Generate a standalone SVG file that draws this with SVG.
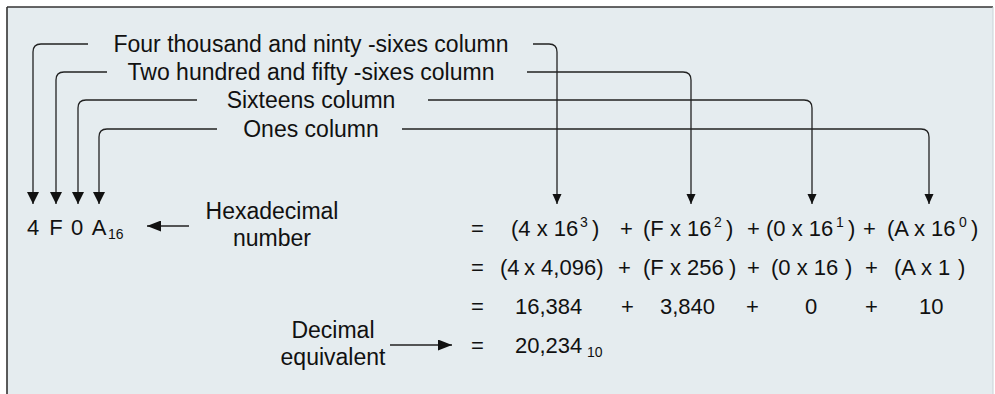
<svg xmlns="http://www.w3.org/2000/svg" width="995" height="394" viewBox="0 0 995 394">
<defs>
<style>
.t{font-family:"Liberation Sans",Arial,sans-serif;fill:#111;}
.lab{font-size:23px;text-anchor:middle;}
.eq{font-size:22px;}
.sm{font-size:14px;}
.c{fill:none;stroke:#222;stroke-width:1.3;}
</style>
<marker id="aBig" markerUnits="userSpaceOnUse" markerWidth="12" markerHeight="12" viewBox="0 0 12 12" refX="12" refY="6" orient="auto"><path d="M0,0 L12,6 L0,12 z" fill="#111"/></marker>
<marker id="aSm" markerUnits="userSpaceOnUse" markerWidth="10" markerHeight="10" viewBox="0 0 10 10" refX="10" refY="5" orient="auto"><path d="M0,0.5 L10,5 L0,9.5 z" fill="#111"/></marker>
<marker id="aH" markerUnits="userSpaceOnUse" markerWidth="14" markerHeight="11" viewBox="0 0 14 11" refX="14" refY="5.5" orient="auto"><path d="M0,0 L14,5.5 L0,11 z" fill="#111"/></marker>
</defs>
<rect x="7" y="7" width="986" height="390" fill="#e5ecef"/>
<line x1="7" y1="7" x2="993" y2="7" stroke="#333" stroke-width="1.6"/>
<line x1="7" y1="7" x2="7" y2="394" stroke="#333" stroke-width="1.6"/>
<line x1="993" y1="7" x2="993" y2="394" stroke="#c9d2d6" stroke-width="1"/>

<g id="connectors">
<path class="c" d="M88,44 H41 Q33,44 33,52 V204" marker-end="url(#aBig)"/>
<path class="c" d="M107,72 H64 Q56,72 56,80 V204" marker-end="url(#aBig)"/>
<path class="c" d="M197,100 H86 Q78,100 78,108 V204" marker-end="url(#aBig)"/>
<path class="c" d="M217,129 H107 Q99,129 99,137 V204" marker-end="url(#aBig)"/>
<path class="c" d="M533,44 H549 Q557,44 557,52 V204" marker-end="url(#aSm)"/>
<path class="c" d="M527,72 H683 Q691,72 691,80 V204" marker-end="url(#aSm)"/>
<path class="c" d="M428,100 H804 Q812,100 812,108 V204" marker-end="url(#aSm)"/>
<path class="c" d="M402,129 H921 Q929,129 929,137 V204" marker-end="url(#aSm)"/>
<path class="c" d="M189,226 H147" marker-end="url(#aH)"/>
<path class="c" d="M390,345 H452" marker-end="url(#aH)"/>
</g>

<g id="label-4096"><text class="t lab" x="311" y="52">Four thousand and ninty -sixes column</text></g>
<g id="label-256"><text class="t lab" x="311" y="80">Two hundred and fifty -sixes column</text></g>
<g id="label-16"><text class="t lab" x="311" y="108">Sixteens column</text></g>
<g id="label-1"><text class="t lab" x="311" y="137">Ones column</text></g>

<g id="hex-number">
<text class="t eq" x="33" y="235" text-anchor="middle">4</text>
<text class="t eq" x="56" y="235" text-anchor="middle">F</text>
<text class="t eq" x="77" y="235" text-anchor="middle">0</text>
<text class="t eq" x="99" y="235" text-anchor="middle">A</text>
<text class="t sm" x="108" y="239">16</text>
</g>
<g id="hex-label">
<text class="t lab" x="272" y="219">Hexadecimal</text>
<text class="t lab" x="272" y="246">number</text>
</g>
<g id="dec-label">
<text class="t lab" x="333" y="338">Decimal</text>
<text class="t lab" x="333" y="365">equivalent</text>
</g>

<g id="row1">
<text class="t eq" x="471" y="236">=</text>
<text class="t eq" x="511" y="236">(4 x 16<tspan class="sm" x="580" dy="-9">3</tspan><tspan x="592" dy="9">)</tspan></text>
<text class="t eq" x="620" y="236">+</text>
<text class="t eq" x="643" y="236">(F x 16<tspan class="sm" x="714" dy="-9">2</tspan><tspan x="726" dy="9">)</tspan></text>
<text class="t eq" x="747" y="236">+</text>
<text class="t eq" x="766" y="236">(0 x 16<tspan class="sm" x="836" dy="-9">1</tspan><tspan x="848" dy="9">)</tspan></text>
<text class="t eq" x="863" y="236">+</text>
<text class="t eq" x="887" y="236">(A x 16<tspan class="sm" x="959" dy="-9">0</tspan><tspan x="971" dy="9">)</tspan></text>
</g>
<g id="row2">
<text class="t eq" x="471" y="275">=</text>
<text class="t eq" x="500" y="275">(4<tspan x="524">x 4,096)</tspan></text>
<text class="t eq" x="618" y="275">+</text>
<text class="t eq" x="643" y="275">(F x 256<tspan x="729">)</tspan></text>
<text class="t eq" x="747" y="275">+</text>
<text class="t eq" x="771" y="275">(0 x 16<tspan x="845">)</tspan></text>
<text class="t eq" x="865" y="275">+</text>
<text class="t eq" x="894" y="275">(A x 1<tspan x="958">)</tspan></text>
</g>
<g id="row3">
<text class="t eq" x="471" y="314">=</text>
<text class="t eq" x="515" y="314">16,384</text>
<text class="t eq" x="621" y="314">+</text>
<text class="t eq" x="660" y="314">3,840</text>
<text class="t eq" x="746" y="314">+</text>
<text class="t eq" x="805" y="314">0</text>
<text class="t eq" x="865" y="314">+</text>
<text class="t eq" x="919" y="314">10</text>
</g>
<g id="row4">
<text class="t eq" x="471" y="353">=</text>
<text class="t eq" x="515" y="353">20,234<tspan class="sm" x="587" dy="4">10</tspan></text>
</g>
</svg>
